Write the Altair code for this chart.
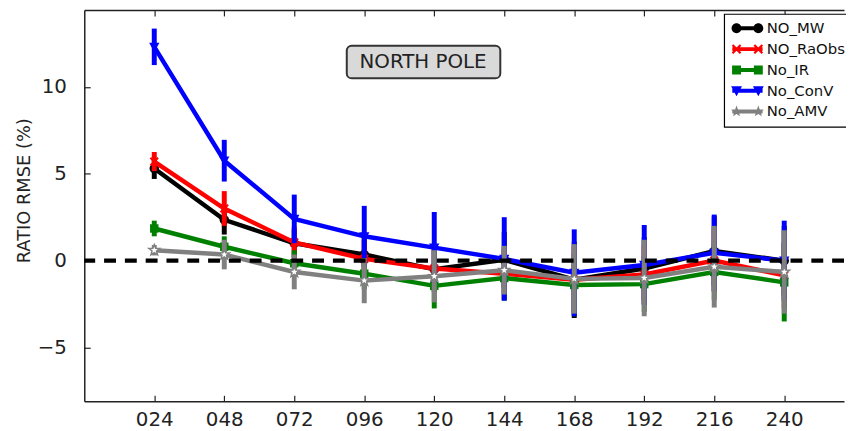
import math
import altair as alt
import pandas as pd

# ---------------- data ----------------
lead_hours = [24, 48, 72, 96, 120, 144, 168, 192, 216, 240]
series_names = ["NO_MW", "NO_RaObs", "No_IR", "No_ConV", "No_AMV"]
series_colors = ["#000000", "#ff0000", "#008000", "#0000ff", "#808080"]
series_markers = ["circle", "x", "square", "tri_down", "star"]

mw_mean = [5.3, 2.35, 1.0, 0.35, -0.5, 0.05, -1.1, -0.45, 0.55, 0.0]
mw_err = [0.6, 0.85, 0.8, 1.0, 1.3, 1.6, 2.2, 1.8, 2.0, 2.0]
raobs_mean = [5.7, 3.0, 1.05, 0.1, -0.45, -0.75, -1.1, -0.8, 0.0, -0.85]
raobs_err = [0.55, 1.0, 0.9, 1.1, 1.2, 1.5, 1.9, 1.7, 1.8, 1.9]
ir_mean = [1.85, 0.8, -0.15, -0.75, -1.45, -1.0, -1.4, -1.35, -0.65, -1.25]
ir_err = [0.45, 0.6, 0.75, 0.9, 1.3, 1.3, 1.8, 1.6, 1.6, 2.25]
conv_mean = [12.3, 5.75, 2.4, 1.4, 0.75, 0.1, -0.7, -0.25, 0.45, 0.0]
conv_err = [1.05, 1.2, 1.4, 1.75, 2.05, 2.4, 2.5, 2.3, 2.2, 2.3]
amv_mean = [0.6, 0.35, -0.65, -1.15, -0.9, -0.55, -1.05, -1.0, -0.35, -0.65]
amv_err = [0.3, 0.85, 1.0, 1.3, 1.5, 1.4, 2.0, 2.2, 2.35, 2.4]

y_ticks = [-5, 0, 5, 10]
panel_label = "NORTH POLE"
y_title = "RATIO RMSE (%)"

all_means = [mw_mean, raobs_mean, ir_mean, conv_mean, amv_mean]
all_errs = [mw_err, raobs_err, ir_err, conv_err, amv_err]

rows = []
for name, means, errs in zip(series_names, all_means, all_errs):
    for h, m, e in zip(lead_hours, means, errs):
        rows.append({"series": name, "lead": h, "mean": m, "low": m - e, "high": m + e})
df = pd.DataFrame(rows)

# ---------------- marker shapes (SVG paths) ----------------
def poly(pts):
    return "M" + "L".join(f"{x:.3f},{y:.3f}" for x, y in pts) + "Z"

def marker(kind, cx, k):
    if kind == "circle":
        r = k
        return (f"M{cx - r:.3f},0A{r:.3f},{r:.3f} 0 1 1 {cx + r:.3f},0"
                f"A{r:.3f},{r:.3f} 0 1 1 {cx - r:.3f},0Z")
    if kind == "square":
        s = 0.9 * k
        return poly([(cx - s, -s), (cx + s, -s), (cx + s, s), (cx - s, s)])
    if kind == "tri_down":
        s = 1.1 * k
        return poly([(cx - s, -0.8 * s), (cx + s, -0.8 * s), (cx, s)])
    if kind == "x":
        a, w = 1.15 * k, 0.22 * k
        base = [(-w, -a), (w, -a), (w, -w), (a, -w), (a, w), (w, w),
                (w, a), (-w, a), (-w, w), (-a, w), (-a, -w), (-w, -w)]
        c = math.sqrt(0.5)
        return poly([(cx + x * c - y * c, x * c + y * c) for x, y in base])
    if kind == "star":
        R, ri = 1.2 * k, 0.5 * k
        pts = []
        for i in range(10):
            ang = math.radians(-90 + 36 * i)
            r = R if i % 2 == 0 else ri
            pts.append((cx + r * math.cos(ang), r * math.sin(ang)))
        return poly(pts)
    return ""

plot_paths = [marker(m, 0, 1.0) for m in series_markers]
# legend symbol: unit = 7 px (symbolSize 196); drawn span 32 px starting at entry left
LU = 7.0
sym_c = (16.0 - LU) / LU          # centre of the 32px symbol, in units
half = 16.0 / LU
mk_off = 11.0 / LU
mk_r = 5.0 / LU
th = 2.0 / LU
bar = poly([(sym_c - half + 0.1, -th), (sym_c + half - 0.1, -th),
            (sym_c + half - 0.1, th), (sym_c - half + 0.1, th)])
legend_paths = [bar + marker(m, sym_c - mk_off, mk_r) + marker(m, sym_c + mk_off, mk_r)
                for m in series_markers]

# ---------------- layout ----------------
W, H = 767, 395
xs = alt.Scale(domain=[0, 260.5], nice=False, zero=False)
ys = alt.Scale(domain=[-8.09, 14.42], nice=False, zero=False)
FONT = "DejaVu Sans"
INK = "#222222"

layers = []
for name, col, path in zip(series_names, series_colors, plot_paths):
    base = alt.Chart(df).transform_filter(alt.datum.series == name)
    err = base.mark_rule(color=col, strokeWidth=5).encode(
        x=alt.X("lead:Q", scale=xs, axis=None),
        y=alt.Y("low:Q", scale=ys, axis=None),
        y2="high:Q",
    )
    line = base.mark_line(color=col, strokeWidth=4.5).encode(
        x=alt.X("lead:Q", scale=xs, axis=None),
        y=alt.Y("mean:Q", scale=ys, axis=None),
    )
    if name == "No_AMV":
        pt = base.mark_point(shape=path, filled=True, fill="white", stroke=col,
                             strokeWidth=1.5, size=90, opacity=1)
    else:
        pt = base.mark_point(shape=path, filled=True, color=col, size=90, opacity=1)
    pt = pt.encode(
        x=alt.X("lead:Q", scale=xs, axis=None),
        y=alt.Y("mean:Q", scale=ys, axis=None),
    )
    layers += [err, line, pt]

zero_df = pd.DataFrame({"z": [0]})
zero_line = alt.Chart(zero_df).mark_rule(color="black", strokeWidth=4.5, strokeDash=[12, 9]).encode(
    y=alt.Y("z:Q", scale=ys, axis=None)
)
layers.append(zero_line)

box_df = pd.DataFrame({"label": [panel_label]})
box = alt.Chart(box_df).mark_rect(cornerRadius=5, fill="#d9d9d9", stroke="#333333", strokeWidth=2).encode(
    x=alt.value(265), x2=alt.value(420), y=alt.value(36), y2=alt.value(69)
)
box_text = alt.Chart(box_df).mark_text(font=FONT, fontSize=20, color=INK, align="center",
                                       baseline="middle").encode(
    x=alt.value(342), y=alt.value(53), text="label:N"
)
layers += [box, box_text]

# axes carriers (invisible points)
main_axes = alt.Chart(zero_df).mark_point(opacity=0).encode(
    x=alt.X("z:Q", scale=xs, axis=alt.Axis(
        orient="bottom", values=lead_hours, format="03d", ticks=False, tickSize=0,
        labelPadding=8, labelFontSize=20, labelFont=FONT, labelColor=INK,
        domain=True, domainColor=INK, domainWidth=1.5, grid=False, title=None)),
    y=alt.Y("z:Q", scale=ys, axis=alt.Axis(
        orient="left", values=y_ticks, ticks=False, tickSize=0,
        labelPadding=18, labelFontSize=20, labelFont=FONT, labelColor=INK,
        domain=True, domainColor=INK, domainWidth=1.5, grid=False,
        title=y_title, titleFont=FONT, titleFontSize=18, titleFontWeight="normal",
        titleColor=INK, titleX=-60, titleY=182, titleAngle=270,
        titleAlign="center", titleBaseline="middle")),
)
top_axes = alt.Chart(zero_df).mark_point(opacity=0).encode(
    x=alt.X("z:Q", scale=xs, axis=alt.Axis(
        orient="bottom", offset=-H, values=lead_hours, labels=False, ticks=True,
        tickSize=6, tickWidth=1.2, tickColor=INK, domain=True, domainColor=INK,
        domainWidth=1.5, grid=False, title=None)),
    y=alt.Y("z:Q", scale=ys, axis=alt.Axis(
        orient="right", offset=-W, values=y_ticks, labels=False, ticks=True,
        tickSize=6, tickWidth=1.2, tickColor=INK, domain=False, grid=False, title=None)),
)
bottom_ticks = alt.Chart(zero_df).mark_point(opacity=0).encode(
    x=alt.X("z:Q", scale=xs, axis=alt.Axis(
        orient="top", offset=-H, values=lead_hours, labels=False, ticks=True,
        tickSize=6, tickWidth=1.2, tickColor=INK, domain=False, grid=False, title=None)),
    y=alt.Y("z:Q", scale=ys, axis=None),
)
layers += [main_axes, top_axes, bottom_ticks]

legend_df = pd.DataFrame({"series": series_names})
legend_layer = alt.Chart(legend_df).transform_filter("false").mark_point(
    filled=True, opacity=1, size=LU * LU * 4, strokeWidth=0
).encode(
    color=alt.Color("series:N", scale=alt.Scale(domain=series_names, range=series_colors),
                    legend=alt.Legend(title=None)),
    shape=alt.Shape("series:N", scale=alt.Scale(domain=series_names, range=legend_paths),
                    legend=alt.Legend(title=None)),
)
layers.append(legend_layer)

chart = alt.layer(*layers).resolve_axis(x="independent", y="independent").properties(
    width=W, height=H,
    padding={"left": 77, "top": 0, "right": 2, "bottom": 27},
    autosize=alt.AutoSizeParams(type="none"),
).configure_view(stroke="transparent").configure_legend(
    orient="none", legendX=646, legendY=4, padding=7, fillColor="white",
    strokeColor="black", strokeWidth=1.2, labelFont=FONT, labelFontSize=15,
    labelColor="#111111", symbolSize=LU * LU * 4, symbolStrokeWidth=0,
    labelOffset=21, rowPadding=5, cornerRadius=0, symbolOpacity=1,
)

chart.save("out.html", embed_options={"renderer": "svg", "actions": False})
